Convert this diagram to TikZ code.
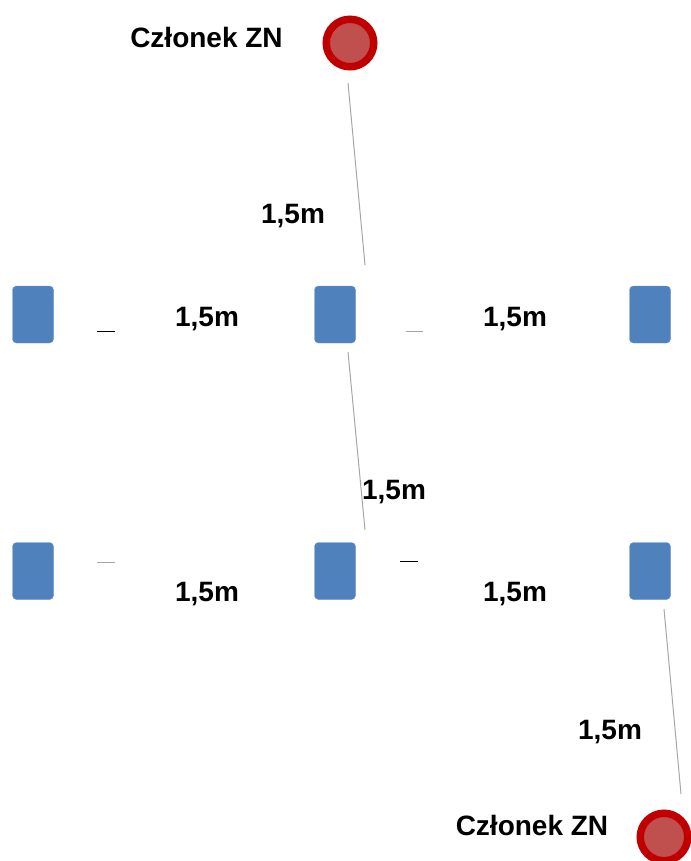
\documentclass[tikz,border=0pt]{standalone}
\usepackage{fontspec}
\setmainfont{Liberation Sans}
\usetikzlibrary{calc}
\definecolor{niebieski}{HTML}{4F81BD}
\definecolor{obwod}{HTML}{C00000}
\definecolor{srodek}{HTML}{C0504D}
\definecolor{linia}{HTML}{A6A6A6}
\newcommand\biurko[3]{% name, x, y
\node (#1) at (#2,#3) [fill=niebieski,draw=niebieski!85!white,rounded corners=4pt,
  minimum width=41pt,minimum height=57pt,inner sep=0pt] {};}
\newcommand\czlonek[3]{% name, x, y
\node (#1) at (#2,#3) [circle,fill=srodek,draw=obwod,line width=7.5pt,
  minimum size=47.5pt,inner sep=0pt] {};}

\begin{document}
\begin{tikzpicture}[x=1pt,y=-1pt,
    napis/.style={anchor=base,font=\fontsize{28}{32}\selectfont\bfseries,inner sep=0pt}]
      \useasboundingbox (0,0) rectangle (690,861);

      \biurko{b11}{33}{314.5}
      \biurko{b12}{335}{314.5}
      \biurko{b13}{650}{314.5}
      \biurko{b21}{33}{571}
      \biurko{b22}{335}{571}
      \biurko{b23}{650}{571}

      \czlonek{zn1}{350}{43}
      \czlonek{zn2}{664}{837}

      \node (t1) at (206.5,48) [napis] {Członek ZN};
      \node (t2) at (532,835) [napis] {Członek ZN};

      \node (m1) at (293,223) [napis] {1,5m};
      \node (m2) at (207,326) [napis] {1,5m};
      \node (m3) at (515,326) [napis] {1,5m};
      \node (m4) at (394,499) [napis] {1,5m};
      \node (m5) at (207,601) [napis] {1,5m};
      \node (m6) at (515,601) [napis] {1,5m};
      \node (m7) at (610,739) [napis] {1,5m};

      % slanted lines
      \coordinate (a1) at (348,83);  \coordinate (a2) at (365,265);
      \coordinate (c1) at (348,352); \coordinate (c2) at (365,530);
      \coordinate (e1) at (664,609); \coordinate (e2) at (681,794);
      \draw[linia,line width=1pt] (a1) -- (a2);
      \draw[linia,line width=1pt] (c1) -- (c2);
      \draw[linia,line width=1pt] (e1) -- (e2);

      % short dashes
      \coordinate (d1) at (97,331);  \coordinate (d2) at (115,331);
      \coordinate (d3) at (406,331); \coordinate (d4) at (423,331);
      \coordinate (d5) at (97,562);  \coordinate (d6) at (115,562);
      \coordinate (d7) at (400,561); \coordinate (d8) at (418,561);
      \draw[black,line width=1pt] (d1) -- (d2);
      \draw[linia,line width=1pt] (d3) -- (d4);
      \draw[linia,line width=1pt] (d5) -- (d6);
      \draw[black,line width=1pt] (d7) -- (d8);
    \end{tikzpicture}
\end{document}
